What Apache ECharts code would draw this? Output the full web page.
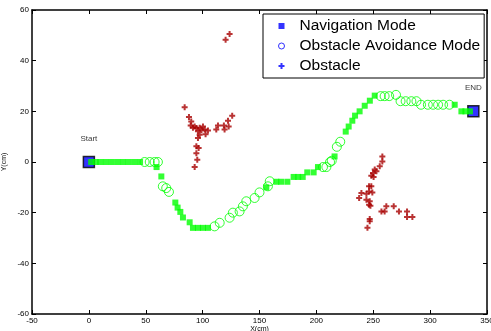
<!DOCTYPE html>
<html>
<head>
<meta charset="utf-8">
<script src="https://cdn.jsdelivr.net/npm/echarts@6/dist/echarts.min.js"></script>
<style>
  html, body { margin: 0; padding: 0; background: #fff; }
  #main { width: 491px; height: 331px; }
</style>
</head>
<body>
<div id="main"></div>
<script>
// robot path: navigation / avoidance points + sensed obstacles
const seriesNames = ['Navigation Mode', 'Obstacle Avoidance Mode', 'Obstacle'];
const xTicks = { min: -50, max: 350, step: 50 };
const yTicks = { min: -60, max: 60, step: 20 };

const navPoints = [
  [2, 0], [6, 0], [10, 0], [15, 0], [20, 0], [25, 0], [30, 0], [35, 0], [40, 0], [45, 0],
  [59.5, -2], [63.7, -5.7],
  [76, -16], [78, -18], [80.4, -19.7], [82.7, -21.9], [88.6, -23.8],
  [91.5, -26], [95.9, -26], [100.3, -26], [104.7, -26],
  [156, -10], [164.8, -7.8], [169, -7.8], [174.5, -7.8],
  [180, -5.9], [184, -5.9], [188, -5.9], [192, -4.1], [197.6, -4.1], [201.4, -2],
  [216, 2.2], [225.8, 12], [228.4, 14], [231.6, 16.3], [234, 18.3], [238, 20],
  [242.5, 22.2], [247, 24.2], [251.3, 26.2],
  [321.6, 22.6], [327.5, 20], [331, 20], [335, 20]
];

const avoidPoints = [
  [49, 0], [53.5, 0], [57.8, 0], [60.7, 0],
  [65, -9.6], [68, -10.3], [70.4, -11.8],
  [110.5, -25.4], [115, -24], [123.7, -22], [126.6, -20], [132.5, -19.5], [135.4, -17.5],
  [138.4, -15.5], [145.7, -14.2], [150, -12], [157.4, -9.6], [159, -7.6],
  [205.8, -2], [208.8, -2], [212, 0], [213.5, 0.5], [218, 6], [221, 8],
  [256.5, 26], [260, 26], [264, 26], [270, 26.5],
  [274, 24], [278.5, 24], [283.5, 24], [288, 24],
  [292, 22.6], [298, 22.6], [302.6, 22.6], [307, 22.6], [311.4, 22.6], [317, 22.6]
];

const obstaclePoints = [
  [84.2, 21.6], [88, 17.8], [90, 16], [89.5, 14.4], [91.5, 13.5], [93, 14], [94.5, 13.4],
  [97.4, 13.5], [99, 12.5], [100.3, 14], [101.8, 12.8], [104.7, 12.4], [95.9, 12.1],
  [97.4, 10.8], [95.9, 9.5], [102.6, 11],
  [112, 12.8], [113.5, 14.4], [118.7, 14.4], [119.3, 12.8], [122.9, 14], [122.3, 16.3], [126, 18.3],
  [94.5, 6.2], [96.5, 5.5], [94.5, 3.5], [95.3, 0.9], [93, -2],
  [123.7, 50.5], [120.2, 48.3],
  [258, 2.2], [258, 0.2], [255.7, -1.7], [252.8, -3.7], [249.8, -4.3], [251.3, -3],
  [248.3, -5.4], [250.3, -5.9], [246.3, -9.6], [248.3, -9.6], [246.3, -11.6], [249.2, -12],
  [244, -12.5], [239.6, -12.2], [237.6, -14.2], [244, -14.9], [246.9, -15.5], [246.3, -16.9],
  [247.5, -17.3], [257.2, -19.5], [260, -19.5], [261.5, -17.5], [268, -17.5], [272.6, -19.5],
  [279.7, -19.5], [279.7, -21.7], [284.4, -21.7], [246.9, -22.5], [246.9, -23.4], [244.9, -26]
];

const endPoints = [
  { name: 'Start', value: [0, 0] },
  { name: 'END', value: [338, 20] }
];

const FONT = 'Arial, "Liberation Sans", sans-serif';
const PLUS = 'path://M2,0H4V2H6V4H4V6H2V4H0V2H2Z';

const axisBase = {
  type: 'value',
  axisLine: { show: true, onZero: false, lineStyle: { color: '#000', width: 1.5 } },
  axisTick: { show: true, inside: true, length: 4, lineStyle: { color: '#000' } },
  splitLine: { show: false },
  nameMoveOverlap: false,
  nameTextStyle: { color: '#000', fontSize: 7, fontFamily: FONT }
};

const labelStyle = { color: '#000', fontSize: 8, fontFamily: FONT, margin: 3 };

const option = {
  backgroundColor: '#fff',
  animation: false,
  grid: { left: 32, right: 4, top: 10, bottom: 17, containLabel: false, outerBoundsMode: 'none' },
  legend: {
    orient: 'vertical',
    left: 263,
    top: 14,
    padding: [4, 4, 4, 15],
    itemGap: 4,
    itemWidth: 6,
    itemHeight: 6,
    borderColor: '#000',
    borderWidth: 1,
    backgroundColor: '#fff',
    textStyle: { color: '#000', fontSize: 15.5, fontFamily: FONT, padding: [0, 0, 0, 10] },
    data: [
      { name: seriesNames[0], icon: 'rect', itemStyle: { color: '#0000ff', borderWidth: 0 } },
      { name: seriesNames[1], icon: 'circle', itemStyle: { color: '#fff', borderColor: '#0000ff', borderWidth: 1 } },
      { name: seriesNames[2], icon: PLUS, itemStyle: { color: '#0000ff', borderWidth: 0 } }
    ]
  },
  xAxis: [
    { ...axisBase, position: 'bottom', min: xTicks.min, max: xTicks.max, interval: xTicks.step,
      name: 'X(cm)', nameLocation: 'middle', nameGap: 12,
      axisLabel: labelStyle },
    { ...axisBase, position: 'top', min: xTicks.min, max: xTicks.max, interval: xTicks.step,
      axisLabel: { show: false } }
  ],
  yAxis: [
    { ...axisBase, position: 'left', min: yTicks.min, max: yTicks.max, interval: yTicks.step,
      name: 'Y(cm)', nameLocation: 'middle', nameGap: 24,
      axisLabel: labelStyle },
    { ...axisBase, position: 'right', min: yTicks.min, max: yTicks.max, interval: yTicks.step,
      axisLabel: { show: false } }
  ],
  series: [
    {
      name: 'ends',
      type: 'scatter',
      symbol: 'rect',
      symbolSize: 11,
      itemStyle: { color: '#0000ff', borderColor: '#000', borderWidth: 1.5 },
      label: {
        show: true, position: 'top', distance: 13, formatter: p => p.name,
        color: '#000', fontSize: 8, fontFamily: FONT
      },
      data: endPoints
    },
    {
      name: seriesNames[0],
      type: 'scatter',
      symbol: 'rect',
      symbolSize: 6,
      itemStyle: { color: '#00ff00' },
      data: navPoints
    },
    {
      name: seriesNames[1],
      type: 'scatter',
      symbol: 'circle',
      symbolSize: 9,
      itemStyle: { color: 'rgba(0,0,0,0)', borderColor: '#00ff00', borderWidth: 1 },
      data: avoidPoints
    },
    {
      name: seriesNames[2],
      type: 'scatter',
      symbol: PLUS,
      symbolSize: 6,
      itemStyle: { color: '#a80000' },
      data: obstaclePoints
    }
  ]
};

window.addEventListener('DOMContentLoaded', () => {
  const chart = echarts.init(document.getElementById('main'), null, { renderer: 'canvas' });
  chart.setOption(option);
});
</script>
</body>
</html>
